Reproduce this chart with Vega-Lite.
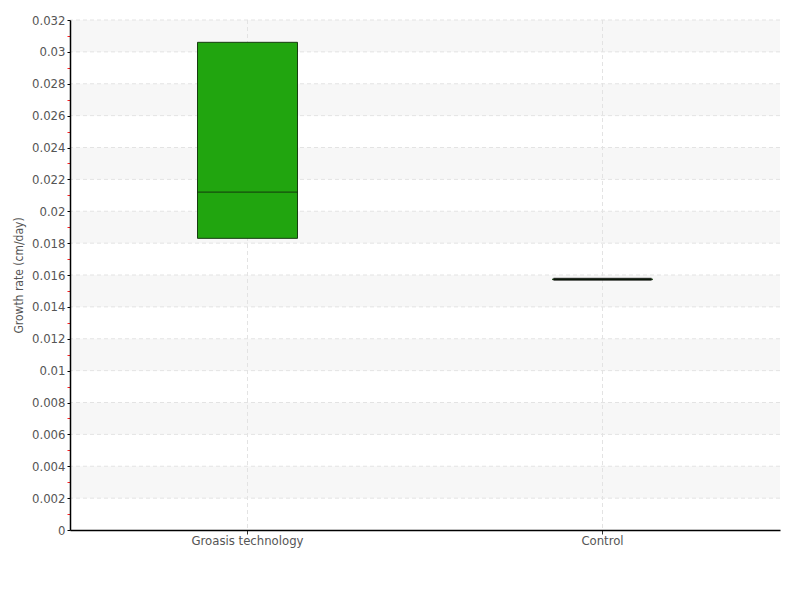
{
  "$schema": "https://vega.github.io/schema/vega-lite/v6.json",
  "width": 710,
  "height": 510,
  "autosize": {"type": "none"},
  "padding": {"left": 70, "top": 20, "right": 20, "bottom": 70},
  "background": "white",
  "config": {
    "view": {"stroke": null},
    "font": "Liberation Sans Narrow, DejaVu Sans Condensed, sans-serif",
    "axis": {"labelFont": "Liberation Sans Narrow, DejaVu Sans Condensed, sans-serif", "titleFont": "Liberation Sans Narrow, DejaVu Sans Condensed, sans-serif", "zindex": 1, "labelOverlap": false},
    "axisY": {"labelOverlap": false, "labelFlush": false, "zindex": 1},
    "axisX": {"zindex": 1}
  },
  "datasets": {
    "boxes": [
      {"cat": "Groasis technology", "q1": 0.0183, "q3": 0.0306, "med": 0.0212},
      {"cat": "Control", "q1": 0.01571, "q3": 0.01575, "med": 0.01573}
    ],
    "bands": [
      {"lo": 0.030, "hi": 0.032},
      {"lo": 0.026, "hi": 0.028},
      {"lo": 0.022, "hi": 0.024},
      {"lo": 0.018, "hi": 0.020},
      {"lo": 0.014, "hi": 0.016},
      {"lo": 0.010, "hi": 0.012},
      {"lo": 0.006, "hi": 0.008},
      {"lo": 0.002, "hi": 0.004}
    ],
    "grid": [
      {"v": 0.002}, {"v": 0.004}, {"v": 0.006}, {"v": 0.008}, {"v": 0.010}, {"v": 0.012}, {"v": 0.014}, {"v": 0.016},
      {"v": 0.018}, {"v": 0.020}, {"v": 0.022}, {"v": 0.024}, {"v": 0.026}, {"v": 0.028}, {"v": 0.030}, {"v": 0.032}
    ]
  },
  "layer": [
    {
      "data": {"name": "bands"},
      "mark": {"type": "rect", "color": "#f7f7f7"},
      "encoding": {
        "y": {
          "field": "lo", "type": "quantitative",
          "scale": {"domain": [0, 0.032], "nice": false, "zero": true},
          "axis": {
            "title": "Growth rate (cm/day)",
            "values": [0, 0.001, 0.002, 0.003, 0.004, 0.005, 0.006, 0.007, 0.008, 0.009, 0.01, 0.011, 0.012, 0.013, 0.014, 0.015, 0.016, 0.017, 0.018, 0.019, 0.02, 0.021, 0.022, 0.023, 0.024, 0.025, 0.026, 0.027, 0.028, 0.029, 0.03, 0.031, 0.032],
            "tickCount": 60,
            "labelExpr": "round(datum.value * 1000) % 2 === 1 ? '' : format(datum.value, '~g')",
            "labelOverlap": false,
            "labelFlush": false,
            "zindex": 1,
            "grid": false,
            "domainColor": "#000000", "domainWidth": 1.5,
            "tickColor": {"condition": {"test": "round(datum.value * 1000) % 2 === 1", "value": "#ff2020"}, "value": "#000000"},
            "tickSize": 3, "tickWidth": 1,
            "labelColor": "#555555", "labelFontSize": 13, "labelPadding": 2,
            "titleColor": "#555555", "titleFontSize": 12, "titleFontWeight": "normal", "titlePadding": 6
          }
        },
        "y2": {"field": "hi"}
      }
    },
    {
      "data": {"name": "grid"},
      "mark": {"type": "rule", "color": "#e3e3e3", "strokeDash": [4, 3], "strokeWidth": 1},
      "encoding": {
        "y": {"field": "v", "type": "quantitative"}
      }
    },
    {
      "data": {"name": "boxes"},
      "mark": {"type": "rule", "color": "#e3e3e3", "strokeDash": [4, 3], "strokeWidth": 1},
      "encoding": {
        "x": {
          "field": "cat", "type": "nominal", "sort": null,
          "scale": {"paddingInner": 0, "paddingOuter": 0},
          "axis": {
            "title": null, "labelAngle": 0, "grid": false, "zindex": 1,
            "domainColor": "#000000", "domainWidth": 1.5,
            "tickColor": "#333333", "tickSize": 4,
            "labelColor": "#555555", "labelFontSize": 13, "labelPadding": 0
          }
        }
      }
    },
    {
      "data": {"name": "boxes"},
      "mark": {"type": "bar", "size": 100, "color": "#21a50f", "stroke": "#173d10", "strokeWidth": 1},
      "encoding": {
        "x": {"field": "cat", "type": "nominal", "sort": null},
        "y": {"field": "q1", "type": "quantitative"},
        "y2": {"field": "q3"}
      }
    },
    {
      "data": {"name": "boxes"},
      "transform": [{"filter": "datum.cat !== 'Control'"}],
      "mark": {"type": "tick", "size": 100, "thickness": 1.3, "color": "#112a0c"},
      "encoding": {
        "x": {"field": "cat", "type": "nominal", "sort": null},
        "y": {"field": "med", "type": "quantitative"}
      }
    },
    {
      "data": {"name": "boxes"},
      "transform": [{"filter": "datum.cat === 'Control'"}],
      "mark": {"type": "tick", "size": 98, "thickness": 3, "color": "#000000"},
      "encoding": {
        "x": {"field": "cat", "type": "nominal", "sort": null},
        "y": {"field": "med", "type": "quantitative"}
      }
    }
  ]
}
